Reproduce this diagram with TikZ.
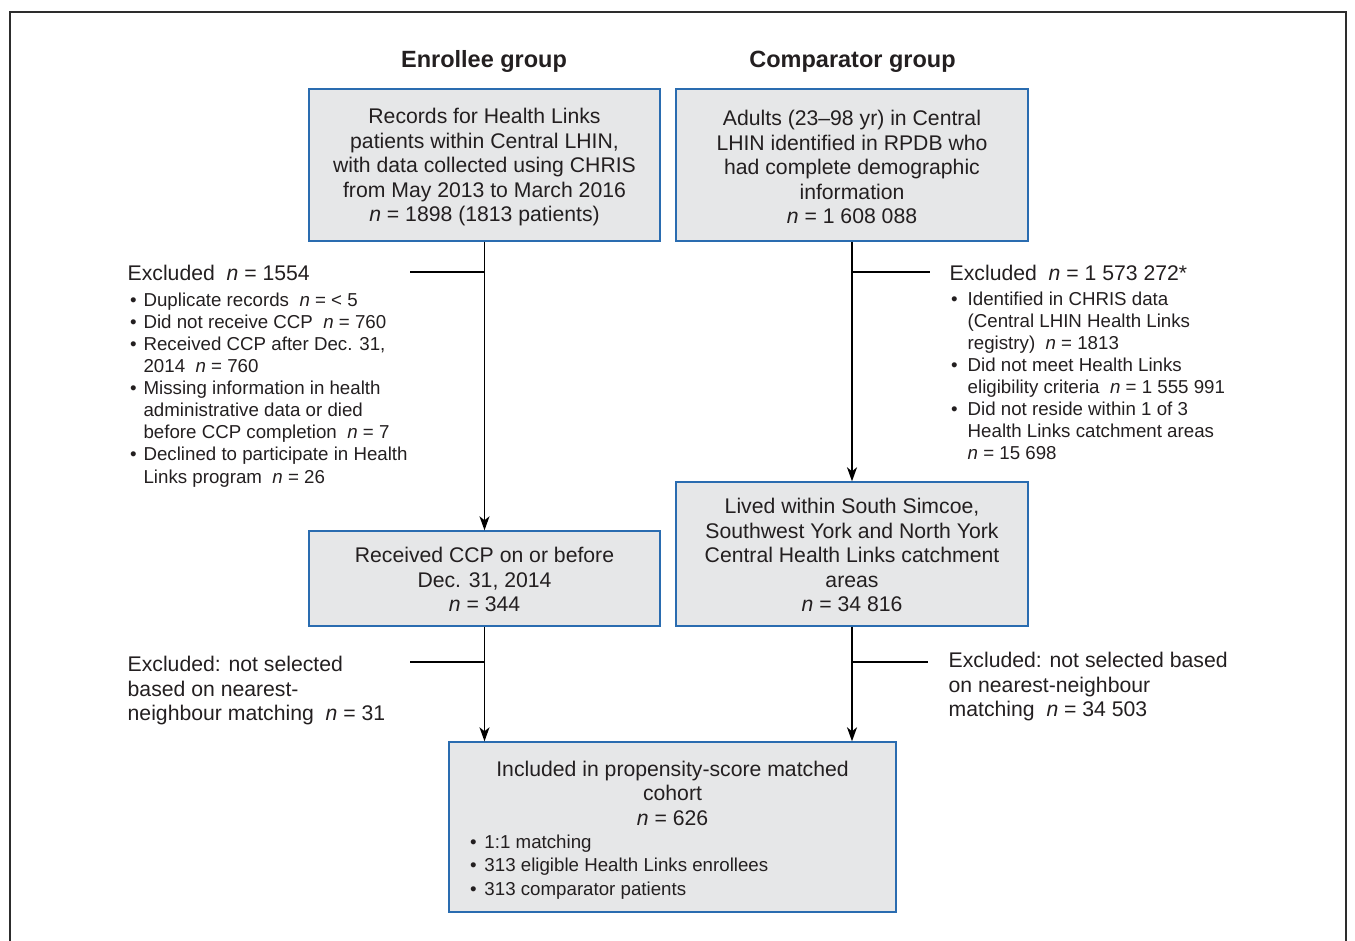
\documentclass[tikz,border=0pt]{standalone}
\usepackage{fontspec}
\setmainfont{Liberation Sans}
\usetikzlibrary{arrows.meta}
\definecolor{boxfill}{RGB}{230,231,232}
\definecolor{boxline}{RGB}{42,108,176}
\definecolor{txt}{RGB}{35,31,32}
\definecolor{framecol}{RGB}{45,45,45}
\newcommand{\bul}[1][13pt]{\makebox[#1][l]{\textbullet}}
\newcommand{\nn}{\textit{n}}
\newcommand{\topstrut}{\rule{0pt}{20pt}}
\begin{document}
\begin{tikzpicture}[x=1pt,y=-1pt,
  every node/.style={text=txt},
  flowbox/.style={draw=boxline, line width=1.4pt, fill=boxfill, inner sep=0pt, align=center,
    font=\fontsize{21.2}{24.5}\selectfont},
  heading/.style={font=\bfseries\fontsize{23.5}{27}\selectfont, anchor=base, inner sep=0pt},
  exclhead/.style={font=\fontsize{21.2}{24.5}\selectfont, anchor=base west, inner sep=0pt},
  exclmain/.style={font=\fontsize{21.2}{24.5}\selectfont, align=left, anchor=north west, inner sep=0pt},
  excllist/.style={font=\fontsize{18.7}{22.1}\selectfont, align=left, anchor=north west, inner sep=0pt},
  conn/.style={line width=1.3pt, draw=black},
  arr/.style={conn, -{Stealth[length=14pt,width=10pt,inset=4pt]}}]
\useasboundingbox (0,0) rectangle (1355,941);
\draw[framecol, line width=2pt] (10,945) -- (10,12) -- (1346,12) -- (1346,945);

% headings
\node[heading] (hE) at (484,68) {Enrollee group};
\node[heading] (hC) at (852.5,67.5) {Comparator group};

% boxes
\node[flowbox, minimum width=351pt, minimum height=152pt] (recs) at (484.5,165)
  {\topstrut Records for Health Links\\patients within Central LHIN,\\with data collected using CHRIS\\from May 2013 to March 2016\\ \nn{} = 1898 (1813 patients)};
\node[flowbox, minimum width=352pt, minimum height=152pt] (adults) at (852,165)
  {\topstrut Adults (23--98 yr) in Central\\LHIN identified in RPDB who\\had complete demographic\\information\\ \nn{} = 1 608 088};
\node[flowbox, minimum width=351pt, minimum height=95pt] (ccp) at (484.5,578.5)
  {\rule{0pt}{17.5pt}Received CCP on or before\\Dec. 31, 2014\\ \nn{} = 344};
\node[flowbox, minimum width=352pt, minimum height=144pt] (lived) at (852,554)
  {\rule{0pt}{17.5pt}Lived within South Simcoe,\\Southwest York and North York\\Central Health Links catchment\\areas\\ \nn{} = 34 816};
\node[flowbox, minimum width=447pt, minimum height=170pt] (incl) at (672.5,827)
  {\begin{minipage}{423pt}\vspace*{6pt}\centering Included in propensity-score matched\\ cohort\\ \nn{} = 626\par
   \fontsize{18.7}{23.3}\selectfont\raggedright
   \hspace*{9pt}\bul[14.5pt]1:1 matching\\
   \hspace*{9pt}\bul[14.5pt]313 eligible Health Links enrollees\\
   \hspace*{9pt}\bul[14.5pt]313 comparator patients\end{minipage}};

% exclusion texts
\node[exclhead] (exAh) at (127.5,281) {Excluded\ \ \nn{} = 1554};
\node[excllist] (exAl) at (130,292.5)
  {\bul[13.4pt]Duplicate records\ \ \nn{} = < 5\\
   \bul[13.4pt]Did not receive CCP\ \ \nn{} = 760\\
   \bul[13.4pt]Received CCP after Dec. 31,\\
   \hspace*{13.4pt}2014\ \ \nn{} = 760\\
   \bul[13.4pt]Missing information in health\\
   \hspace*{13.4pt}administrative data or died\\
   \hspace*{13.4pt}before CCP completion\ \ \nn{} = 7\\
   \bul[13.4pt]Declined to participate in Health\\
   \hspace*{13.4pt}Links program\ \ \nn{} = 26};
\node[exclhead] (exBh) at (949.5,281) {Excluded\ \ \nn{} = 1 573 272*};
\node[excllist] (exBl) at (951,291.5)
  {\bul[16.5pt]Identified in CHRIS data\\
   \hspace*{16.5pt}(Central LHIN Health Links\\
   \hspace*{16.5pt}registry)\ \ \nn{} = 1813\\
   \bul[16.5pt]Did not meet Health Links\\
   \hspace*{16.5pt}eligibility criteria\ \ \nn{} = 1 555 991\\
   \bul[16.5pt]Did not reside within 1 of 3\\
   \hspace*{16.5pt}Health Links catchment areas\\
   \hspace*{16.5pt}\nn{} = 15 698};
\node[exclmain] (exC) at (127.5,656)
  {Excluded: not selected\\based on nearest-\\neighbour matching\ \ \nn{} = 31};
\node[exclmain] (exD) at (948.5,652)
  {Excluded: not selected based\\on nearest-neighbour\\matching\ \ \nn{} = 34 503};

% connectors
\coordinate (jA) at (484.5,272);
\coordinate (eA) at (410,272);
\coordinate (jB) at (852,272);
\coordinate (eB) at (930,272);
\coordinate (jC) at (484.5,662);
\coordinate (eC) at (410,662);
\coordinate (jD) at (852,662);
\coordinate (eD) at (928,662);
\draw[arr] (recs.south) -- (ccp.north);
\draw[arr] (adults.south) -- (lived.north);
\draw[arr] (ccp.south) -- (ccp.south |- incl.north);
\draw[arr] (lived.south) -- (lived.south |- incl.north);
\draw[conn] (eA) -- (jA);
\draw[conn] (jB) -- (eB);
\draw[conn] (eC) -- (jC);
\draw[conn] (jD) -- (eD);
\end{tikzpicture}
\end{document}
